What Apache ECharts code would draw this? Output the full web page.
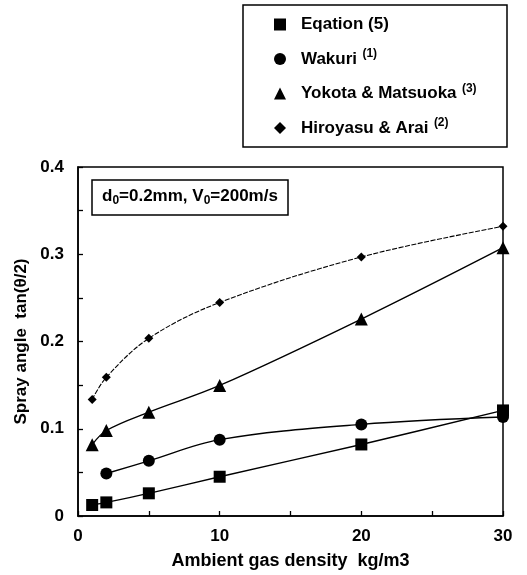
<!DOCTYPE html>
<html>
<head>
<meta charset="utf-8">
<script src="https://cdn.jsdelivr.net/npm/echarts@6/dist/echarts.min.js"></script>
<style>
  html, body { margin: 0; padding: 0; background: #fff; }
  #main { width: 527px; height: 575px; }
</style>
</head>
<body>
<div id="main"></div>
<script>
// ambient gas density, kg/m3
const xFull = [1, 2, 5, 10, 20, 30];
const xWakuri = [2, 5, 10, 20, 30];

// tan(theta/2)
const equation = [0.0126, 0.0156, 0.026, 0.045, 0.082, 0.121];
const wakuri = [0.0487, 0.0632, 0.0875, 0.105, 0.1134];
const yokota = [0.0818, 0.098, 0.119, 0.1496, 0.2257, 0.3075];
const hiroyasu = [0.1336, 0.159, 0.2036, 0.2447, 0.2969, 0.332];

const seriesNames = ['Eqation', 'Wakuri', 'Yokota & Matsuoka', 'Hiroyasu & Arai'];
const seriesRefs = ['(5)', '(1)', '(3)', '(2)'];

const font = '"Liberation Sans", Arial, sans-serif';

const pairs = (xs, ys) => xs.map((x, i) => [x, ys[i]]);

const chart = echarts.init(document.getElementById('main'));

const lineSeries = (name, data, symbol, size, lineStyle) => ({
	name: name,
	type: 'line',
	data: data,
	smooth: 0.35,
	symbol: symbol,
	symbolSize: size,
	showSymbol: true,
	itemStyle: { color: '#000' },
	lineStyle: Object.assign({ color: '#000', width: 1.4 }, lineStyle || {}),
	z: 3
});

chart.setOption({
	animation: false,
	backgroundColor: '#fff',
	textStyle: { fontFamily: font },
	grid: {
		left: 78,
		right: 24,
		top: 167,
		bottom: 57,
		show: true,
		borderColor: '#000',
		borderWidth: 1.5,
		backgroundColor: 'transparent'
	},
	title: {
		text: '{t|d}{s|0}{t|=0.2mm, V}{s|0}{t|=200m/s}',
		left: 92,
		top: 178,
		padding: [8, 10, 8, 10],
		borderColor: '#000',
		borderWidth: 1.5,
		textStyle: {
			rich: {
				t: { fontFamily: font, fontSize: 17, fontWeight: 'bold', color: '#000', lineHeight: 20 },
				s: { fontFamily: font, fontSize: 12, fontWeight: 'bold', color: '#000', verticalAlign: 'bottom', padding: [9, 0, 0, 0] }
			}
		}
	},
	graphic: [
		{
			type: 'rect',
			shape: { x: 243, y: 5, width: 264, height: 142 },
			style: { fill: 'none', stroke: '#000', lineWidth: 1.5 }
		}
	],
	legend: {
		orient: 'vertical',
		left: 269,
		top: 11,
		itemGap: 15,
		itemWidth: 12,
		itemHeight: 12,
		data: [
			{ name: seriesNames[0], icon: 'rect' },
			{ name: seriesNames[1], icon: 'circle' },
			{ name: seriesNames[2], icon: 'triangle' },
			{ name: seriesNames[3], icon: 'diamond' }
		],
		formatter: function (name) {
			const ref = seriesRefs[seriesNames.indexOf(name)];
			if (name === seriesNames[0]) return '{n|' + name + ' ' + ref + '}';
			return '{n|' + name + '} {s|' + ref + '}';
		},
		textStyle: {
			padding: [0, 0, 0, 10],
			rich: {
				n: { fontFamily: font, fontSize: 17, fontWeight: 'bold', color: '#000' },
				s: { fontFamily: font, fontSize: 12, fontWeight: 'bold', color: '#000', verticalAlign: 'top', padding: [0, 0, 10, 2] }
			}
		}
	},
	xAxis: {
		type: 'value',
		min: 0,
		max: 30,
		interval: 5,
		name: 'Ambient gas density  kg/m3',
		nameLocation: 'middle',
		nameGap: 36,
		nameTextStyle: { fontFamily: font, fontSize: 18, fontWeight: 'bold', color: '#000' },
		axisLine: { show: true, lineStyle: { color: '#000', width: 1.5 } },
		axisTick: { show: true, inside: true, length: 5, lineStyle: { color: '#000', width: 1.3 } },
		axisLabel: {
			fontFamily: font,
			fontSize: 17,
			fontWeight: 'bold',
			color: '#000',
			margin: 12,
			formatter: function (v) { return v % 10 === 0 ? String(v) : ''; }
		},
		splitLine: { show: false }
	},
	yAxis: {
		type: 'value',
		min: 0,
		max: 0.4,
		interval: 0.05,
		name: 'Spray angle  tan(θ/2)',
		nameLocation: 'middle',
		nameGap: 37,
		nameRotate: 90,
		nameTextStyle: { fontFamily: font, fontSize: 17, fontWeight: 'bold', color: '#000' },
		axisLine: { show: true, lineStyle: { color: '#000', width: 1.5 } },
		axisTick: { show: true, inside: true, length: 5, lineStyle: { color: '#000', width: 1.3 } },
		axisLabel: {
			fontFamily: font,
			fontSize: 17,
			fontWeight: 'bold',
			color: '#000',
			margin: 14,
			formatter: function (v) {
				const k = Math.round(v * 100);
				if (k % 10 !== 0) return '';
				return k === 0 ? '0' : (k / 100).toFixed(1);
			}
		},
		splitLine: { show: false }
	},
	series: [
		lineSeries(seriesNames[0], pairs(xFull, equation), 'rect', 12),
		lineSeries(seriesNames[1], pairs(xWakuri, wakuri), 'circle', 12),
		lineSeries(seriesNames[2], pairs(xFull, yokota), 'triangle', 13),
		lineSeries(seriesNames[3], pairs(xFull, hiroyasu), 'diamond', 9, { width: 1.1, type: [5, 1.5] })
	]
});

window.addEventListener('resize', function () { chart.resize(); });
</script>
</body>
</html>
